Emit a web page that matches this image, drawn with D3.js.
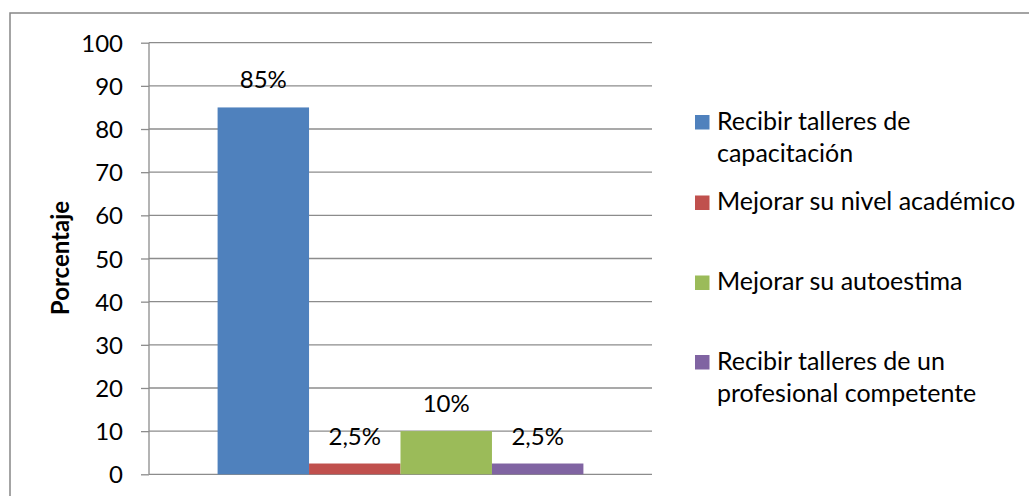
<!DOCTYPE html>
<html><head><meta charset="utf-8">
<script src="https://cdn.jsdelivr.net/npm/d3@7"></script>
<style>body{margin:0;background:#fff}svg{display:block}text{font-family:Lato,"Noto Sans",sans-serif;fill:#000}</style>
</head><body>
<svg id="c" width="1029" height="496"></svg>
<script>
const series = ["Recibir talleres de capacitación","Mejorar su nivel académico","Mejorar su autoestima","Recibir talleres de un profesional competente"];
const legendLines = [["Recibir talleres de","capacitación"],["Mejorar su nivel académico"],["Mejorar su autoestima"],["Recibir talleres de un","profesional competente"]];
const values = [85, 2.5, 10, 2.5];
const valueLabels = ["85%","2,5%","10%","2,5%"];
const colors = ["#4F81BD","#C0504D","#9BBB59","#8064A2"];
const yTicks = [0,10,20,30,40,50,60,70,80,90,100];
const yTitle = "Porcentaje";

const svg = d3.select("#c");
const L = 149, R = 652, T = 42.7, B = 474.3;
// chart border
svg.append("path").attr("d","M10,496 V13 H1029").attr("fill","none").attr("stroke","#878787").attr("stroke-width",1.5);

const y = d3.scaleLinear().domain([0,100]).range([B,T]);
// group: bars occupy 4/(4+1.5) of the plot width, centered
const groupW = (R-L)*4/5.5, gx0 = L + (R-L)*0.75/5.5;
const x = d3.scaleBand().domain(series).range([gx0, gx0+groupW]).padding(0);

// gridlines
svg.append("g").selectAll("line").data(yTicks).join("line")
  .attr("x1",L).attr("x2",R).attr("y1",d=>y(d)).attr("y2",d=>y(d))
  .attr("stroke","#8c8c8c").attr("stroke-width",1.3);

// y axis
const ax = svg.append("g").attr("transform",`translate(${L},0)`)
  .call(d3.axisLeft(y).tickValues(yTicks).tickSize(8).tickPadding(18));
ax.attr("font-family",null).attr("font-size",null);
ax.select(".domain").attr("stroke","#8c8c8c").attr("stroke-width",1.3).attr("d",`M0,${B}V${T}`);
ax.selectAll(".tick line").attr("stroke","#8c8c8c").attr("stroke-width",1.3);
ax.selectAll(".tick text").attr("font-size",24).attr("fill","#000").attr("dy","0.36em");

// bars
svg.append("g").selectAll("rect").data(values).join("rect")
  .attr("x",(d,i)=>x(series[i])).attr("width",x.bandwidth())
  .attr("y",d=>y(d)).attr("height",d=>B-y(d)).attr("fill",(d,i)=>colors[i]);

// value labels
svg.append("g").selectAll("text").data(values).join("text")
  .attr("x",(d,i)=>x(series[i])+x.bandwidth()/2).attr("y",d=>y(d)-19)
  .attr("text-anchor","middle").attr("font-size",24).text((d,i)=>valueLabels[i]);

// y title
svg.append("text").attr("transform","translate(69,258) rotate(-90)")
  .attr("text-anchor","middle").attr("font-size",24).attr("font-weight","bold").text(yTitle);

// legend
const legBase = [129.5, 210, 290, 369.5];
const lg = svg.append("g");
legendLines.forEach((lines,i)=>{
  lg.append("rect").attr("x",695).attr("y",legBase[i]-14.5).attr("width",14.5).attr("height",14.5).attr("fill",colors[i]);
  lines.forEach((t,j)=>{
    lg.append("text").attr("x",717).attr("y",legBase[i]+j*32.2).attr("font-size",25).text(t);
  });
});
</script>
</body></html>
